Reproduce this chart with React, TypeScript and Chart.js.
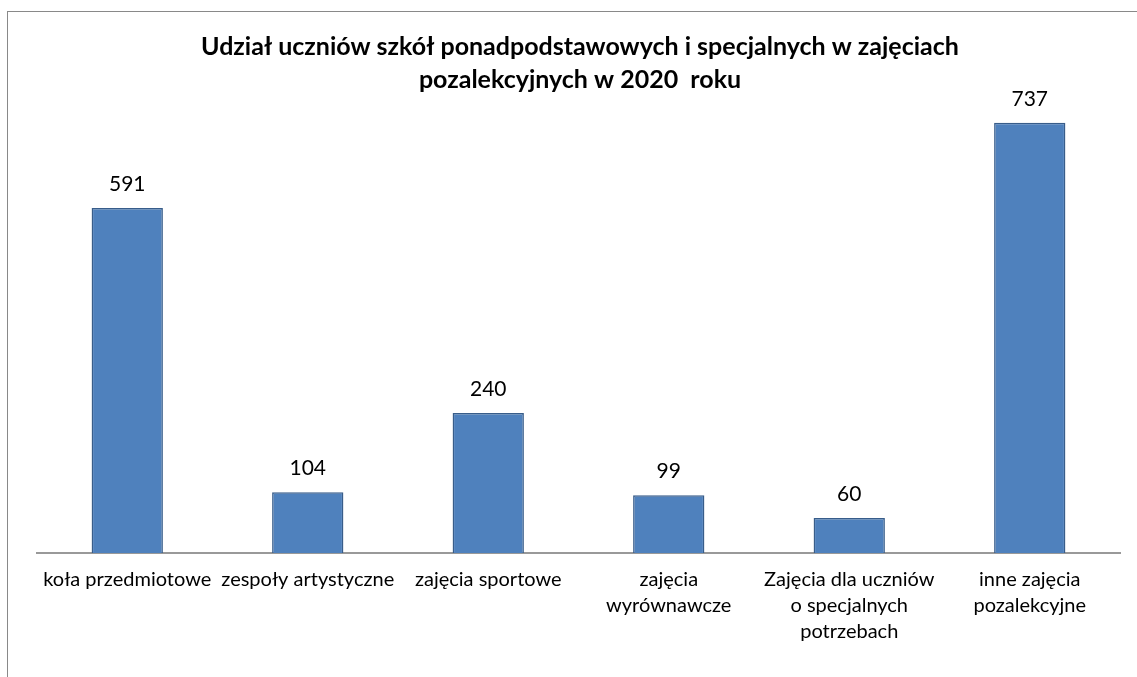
import React, { useEffect, useRef } from "react";
import { Chart, registerables } from "chart.js";

Chart.register(...registerables);

const categories: (string | string[])[] = [
  "koła przedmiotowe",
  "zespoły artystyczne",
  "zajęcia sportowe",
  ["zajęcia", "wyrównawcze"],
  ["Zajęcia dla uczniów", "o specjalnych", "potrzebach"],
  ["inne zajęcia", "pozalekcyjne"],
];
const values: number[] = [591, 104, 240, 99, 60, 737];
const titleLines: string[] = [
  "Udział uczniów szkół ponadpodstawowych i specjalnych w zajęciach",
  "pozalekcyjnych w 2020  roku",
];

const FONT = "Lato, 'Noto Sans', sans-serif";

const titlePlugin = {
  id: "customTitle",
  afterDraw(chart: any) {
    const ctx = chart.ctx;
    ctx.save();
    ctx.fillStyle = "#000";
    ctx.font = `bold 25px ${FONT}`;
    ctx.textAlign = "center";
    ctx.textBaseline = "alphabetic";
    ctx.fillText(titleLines[0], 580, 55);
    ctx.fillText(titleLines[1], 580, 88);
    ctx.restore();
  },
};

const valueLabelPlugin = {
  id: "valueLabels",
  afterDatasetsDraw(chart: any) {
    const ctx = chart.ctx;
    const meta = chart.getDatasetMeta(0);
    ctx.save();
    ctx.fillStyle = "#000";
    ctx.font = `21px ${FONT}`;
    ctx.textAlign = "center";
    ctx.textBaseline = "alphabetic";
    meta.data.forEach((bar: any, i: number) => {
      ctx.fillText(String(values[i]), bar.x, bar.y - 17);
    });
    ctx.restore();
  },
};

export default function App() {
  const ref = useRef<HTMLCanvasElement>(null);
  useEffect(() => {
    if (!ref.current) return;
    const chart = new Chart(ref.current, {
      type: "bar",
      data: {
        labels: categories,
        datasets: [
          {
            data: values,
            backgroundColor: "#4F81BD",
            borderColor: "#385D8A",
            borderWidth: 1.5,
            categoryPercentage: 1,
            barPercentage: 0.395,
          },
        ],
      },
      options: {
        responsive: false,
        animation: false,
        layout: { padding: { left: 37, right: 17, top: 86, bottom: 0 } },
        plugins: {
          legend: { display: false },
          title: { display: false },
          tooltip: { enabled: false },
        },
        scales: {
          y: { display: false, min: 0, max: 800 },
          x: {
            grid: { display: false, drawTicks: false },
            border: { display: true, color: "#999999", width: 2 },
            ticks: {
              color: "#000",
              font: { family: FONT, size: 20, lineHeight: 1.3 },
              padding: 14,
              maxRotation: 0,
              minRotation: 0,
              autoSkip: false,
            },
            afterFit: (scale: any) => {
              scale.height = 124;
            },
          },
        },
      },
      plugins: [titlePlugin, valueLabelPlugin],
    });
    return () => chart.destroy();
  }, []);

  return (
    <div
      style={{
        position: "fixed",
        left: 0,
        top: 0,
        width: 1137,
        height: 677,
        overflow: "hidden",
        background: "#fff",
      }}
    >
      <div
        style={{
          position: "absolute",
          left: 7,
          top: 11,
          width: 1200,
          height: 700,
          border: "1px solid #898989",
        }}
      />
      <canvas
        ref={ref}
        width={1137}
        height={677}
        style={{ position: "absolute", left: 0, top: 0 }}
      />
    </div>
  );
}
